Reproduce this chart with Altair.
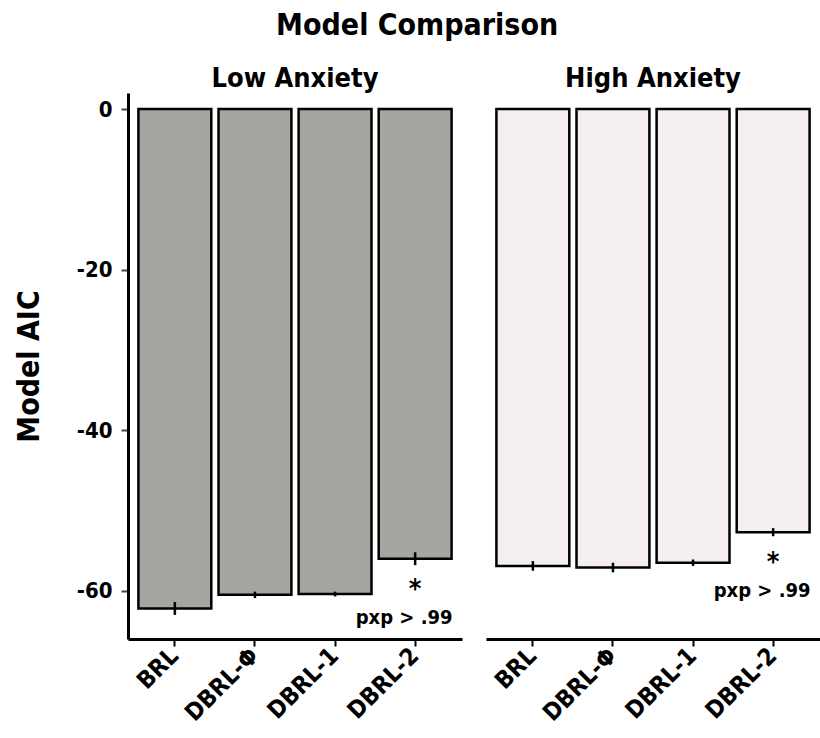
import altair as alt
import pandas as pd

FONT = "DejaVu Sans Condensed, DejaVu Sans, sans-serif"

anxiety = ["Low Anxiety"] * 4 + ["High Anxiety"] * 4
models = ["BRL", "DBRL-Φ", "DBRL-1", "DBRL-2"] * 2
aic = [-62.2, -60.5, -60.4, -56.0, -56.9, -57.1, -56.5, -52.7]
err = [0.8, 0.4, 0.3, 0.8, 0.6, 0.6, 0.4, 0.5]
best = [False, False, False, True, False, False, False, True]
group_order = ["Low Anxiety", "High Anxiety"]
fills = ["#a6a59f", "#f4eeee"]
y_ticks = [0, -20, -40, -60]

df = pd.DataFrame({
    "anxiety": anxiety,
    "model": models,
    "aic": aic,
    "lo": [a - e for a, e in zip(aic, err)],
    "hi": [a + e for a, e in zip(aic, err)],
    "best": best,
})

x = alt.X("model:N", sort=models[:4], title=None,
          scale=alt.Scale(paddingInner=0.09, paddingOuter=0.13),
          axis=alt.Axis(labelAngle=-45, labelAlign="right", labelBaseline="middle",
                        labelFontSize=24, labelFontWeight="bold", labelFont=FONT,
                        labelColor="black", labelPadding=6, tickSize=7, tickWidth=2,
                        tickColor="black", domainColor="black", domainWidth=3))
y_scale = alt.Scale(domain=[-66, 2], nice=False, zero=False)

bars = alt.Chart().mark_bar(stroke="black", strokeWidth=2.5).encode(
    x=x,
    y=alt.Y("aic:Q", scale=y_scale, title="Model AIC",
            axis=alt.Axis(values=y_ticks, labelExpr="'' + datum.value",
                          labelFontSize=22, labelFontWeight="bold",
                          labelFont=FONT, labelColor="black", labelPadding=9,
                          tickSize=7, tickWidth=2, tickColor="#444444",
                          domainColor="black", domainWidth=3, grid=False,
                          titleFontSize=30, titleFont=FONT, titleFontWeight="bold",
                          titleColor="black", titlePadding=32)),
    y2=alt.Y2(datum=0),
    fill=alt.Fill("anxiety:N", scale=alt.Scale(domain=group_order, range=fills), legend=None),
)

errs = alt.Chart().mark_rule(color="black", strokeWidth=2.5).encode(
    x=alt.X("model:N", sort=models[:4]),
    y=alt.Y("lo:Q", scale=y_scale),
    y2="hi:Q",
)

star = alt.Chart().transform_filter(alt.datum.best).mark_text(
    text="*", fontSize=27, fontWeight="bold", font=FONT, color="black",
    baseline="middle", dy=31).encode(
    x=alt.X("model:N", sort=models[:4]),
    y=alt.Y("aic:Q", scale=y_scale),
)

pxp = alt.Chart().transform_filter(alt.datum.best).mark_text(
    text="pxp > .99", fontSize=20, fontWeight="bold", font=FONT, color="black",
    baseline="middle", align="center", dx=-11, dy=59).encode(
    x=alt.X("model:N", sort=models[:4]),
    y=alt.Y("aic:Q", scale=y_scale),
)

chart = alt.layer(bars, errs, star, pxp, data=df).properties(
    width=334, height=546
).facet(
    column=alt.Column("anxiety:N", sort=group_order,
                      header=alt.Header(title=None, labelFontSize=27, labelFontWeight="bold",
                                        labelFont=FONT, labelColor="black", labelPadding=0)),
    spacing=24,
).properties(
    title=alt.TitleParams("Model Comparison", fontSize=30, font=FONT, fontWeight="bold",
                          color="black", anchor="middle", offset=24)
).configure(
    padding={"left": 14, "top": 11, "right": 0, "bottom": 0},
    view=alt.ViewConfig(stroke=None),
)

chart.save("out.html", embed_options={"renderer": "svg", "actions": False})
